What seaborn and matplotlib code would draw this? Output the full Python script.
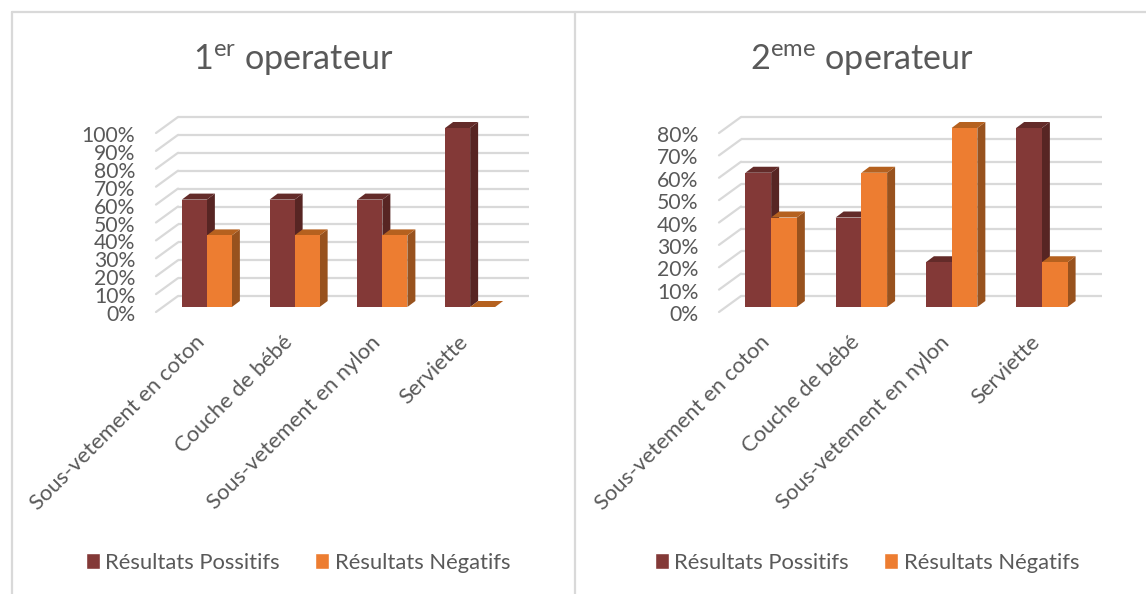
import matplotlib
matplotlib.use("Agg")
import matplotlib.pyplot as plt
import pandas as pd
import seaborn as sns
from matplotlib.lines import Line2D
from matplotlib.patches import Polygon
from matplotlib.transforms import Affine2D, IdentityTransform

# Data
categories_1 = ["Sous-vetement en coton", "Couche de bébé", "Sous-vetement en nylon", "Serviette"]
categories_2 = ["Sous-vetement en coton", "Couche de bébé", "Sous-vetement en nylon", "Serviette"]
positifs_1 = [60, 60, 60, 100]
negatifs_1 = [40, 40, 40, 0]
positifs_2 = [60, 40, 20, 80]
negatifs_2 = [40, 60, 80, 20]
yticks_1 = [0, 10, 20, 30, 40, 50, 60, 70, 80, 90, 100]
yticks_2 = [0, 10, 20, 30, 40, 50, 60, 70, 80]
serie_pos = "Résultats Possitifs"
serie_neg = "Résultats Négatifs"

W, H = 1146, 594
TEXT = "#595959"
GRID = "#d9d9d9"
colors = {serie_pos: "#833937", serie_neg: "#ED7D31"}
side_colors = ["#572523", "#98521E"]
top_colors = ["#632B29", "#B5611F"]

sns.set_theme(style="white")
plt.rcParams["font.family"] = ["Lato", "DejaVu Sans"]
plt.rcParams["mathtext.fontset"] = "custom"
plt.rcParams["mathtext.rm"] = "Lato"
plt.rcParams["mathtext.default"] = "regular"

fig = plt.figure(figsize=(W / 100, H / 100), dpi=100)


def draw_panel(left, right, title, title_x, legend_x, cats, pos, neg, yticks):
    # the axes is the plane the bar fronts stand on
    ax = fig.add_axes([left / W, 1 - 307 / H, (right - left) / W, 179 / H])
    df = pd.DataFrame(
        {
            "cat": cats + cats,
            "val": pos + neg,
            "serie": [serie_pos] * len(pos) + [serie_neg] * len(neg),
        }
    )
    sns.barplot(
        data=df, x="cat", y="val", hue="serie", palette=colors, width=0.57, gap=0,
        saturation=1, ax=ax,
    )
    ax.set_xlim(-0.5, len(cats) - 0.5)
    ax.set_ylim(0, yticks[-1])
    ax.set_xlabel("")
    ax.set_ylabel("")
    sns.despine(ax=ax, left=True, bottom=True)

    ax.set_yticks(yticks)
    ax.set_yticklabels([str(v) + "%" for v in yticks])
    ax.tick_params(axis="y", length=0, pad=20, labelsize=15.2, labelcolor=TEXT)
    for lab in ax.get_yticklabels():
        lab.set_transform(lab.get_transform() + Affine2D().translate(0, -6))

    ax.tick_params(axis="x", length=0, pad=18, labelsize=15.8, labelcolor=TEXT)
    for lab in ax.get_xticklabels():
        lab.set_rotation(45)
        lab.set_ha("right")
        lab.set_rotation_mode("anchor")
        lab.set_transform(lab.get_transform() + Affine2D().translate(-12, 0))

    # back wall and side wall lines, shifted from the bar plane in pixels
    back = ax.get_yaxis_transform() + Affine2D().translate(15, 11)
    ax.hlines(yticks, 0, 1, transform=back, color=GRID, lw=1.6, zorder=0, clip_on=False)
    for v in yticks:
        px, py = ax.transData.transform((-0.5, v))
        ax.add_line(
            Line2D(
                [px - 7, px + 15], [py - 5, py + 11], transform=IdentityTransform(),
                color=GRID, lw=1.6, zorder=0, clip_on=False,
            )
        )

    # extruded faces of each bar
    n = len(cats)
    for i, bar in enumerate(ax.patches[: 2 * n]):
        s = i // n
        bar.set_zorder(2)
        bar.set_linewidth(0)
        x0, y0 = ax.transData.transform((bar.get_x(), 0))
        x1, y1 = ax.transData.transform((bar.get_x() + bar.get_width(), bar.get_height()))
        dx, dy = 8, 6
        if bar.get_height() > 0:
            ax.add_patch(
                Polygon(
                    [(x1, y0), (x1 + dx, y0 + dy), (x1 + dx, y1 + dy), (x1, y1)],
                    transform=IdentityTransform(), fc=side_colors[s], lw=0,
                    zorder=1.5 + s * 0.1, clip_on=False,
                )
            )
        ax.add_patch(
            Polygon(
                [(x0, y1), (x0 + dx, y1 + dy), (x1 + dx, y1 + dy), (x1, y1)],
                transform=IdentityTransform(), fc=top_colors[s], lw=0,
                zorder=1.5 + s * 0.1, clip_on=False,
            )
        )

    handles, labels = ax.get_legend_handles_labels()
    ax.legend(
        handles[:2], labels[:2], loc="center", ncol=2, frameon=False,
        bbox_to_anchor=(legend_x / W, 1 - 563 / H), bbox_transform=fig.transFigure,
        fontsize=15.8, labelcolor=TEXT, handlelength=0.64, handleheight=0.73,
        handletextpad=0.25, columnspacing=1.6,
    )
    fig.text(
        title_x / W, 1 - 60 / H, title, ha="center", va="center", color=TEXT, fontsize=24.6,
    )


draw_panel(163, 514, r"1$^{er}$ operateur", 293, 298, categories_1, positifs_1, negatifs_1, yticks_1)
draw_panel(726, 1087, r"2$^{eme}$ operateur", 862, 867, categories_2, positifs_2, negatifs_2, yticks_2)

# frame around the two charts
for xs, ys in [([12, 12], [12, H]), ([575, 575], [12, H]), ([12, W], [12, 12])]:
    fig.add_artist(
        Line2D(
            [x / W for x in xs], [1 - y / H for y in ys], transform=fig.transFigure,
            color=GRID, lw=1.6,
        )
    )

fig.savefig("out.png", dpi=100, facecolor="white")
